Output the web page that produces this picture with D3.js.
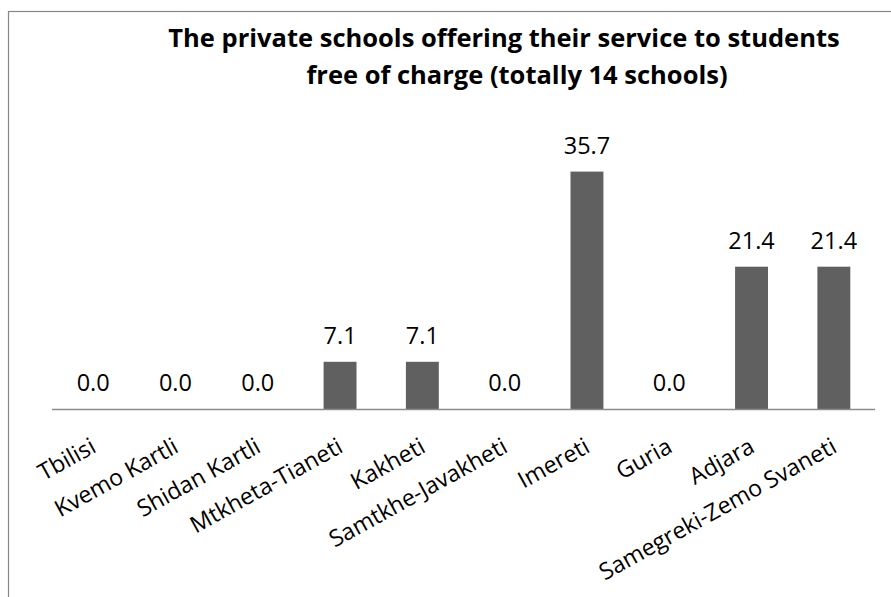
<!DOCTYPE html>
<html>
<head>
<meta charset="utf-8">
<script src="https://cdn.jsdelivr.net/npm/d3@7"></script>
<style>
  html, body { margin: 0; padding: 0; background: #fff; }
  svg { display: block; }
</style>
</head>
<body>
<svg id="chart" width="891" height="597"></svg>
<script>
// Share of free-of-charge private schools by region (%)
const regions = ["Tbilisi", "Kvemo Kartli", "Shidan Kartli", "Mtkheta-Tianeti", "Kakheti",
                 "Samtkhe-Javakheti", "Imereti", "Guria", "Adjara", "Samegreki-Zemo Svaneti"];
const shares = [0.0, 0.0, 0.0, 7.1, 7.1, 0.0, 35.7, 0.0, 21.4, 21.4];
const titleLines = ["The private schools offering their service to students",
                    "free of charge (totally 14 schools)"];

const svg = d3.select("#chart");
const font = "'Open Sans', 'DejaVu Sans', sans-serif";

// outer chart frame
svg.append("rect")
  .attr("x", 8.5).attr("y", 11.5)
  .attr("width", 1000).attr("height", 1000)
  .attr("fill", "#fff").attr("stroke", "#878787").attr("stroke-width", 1.2);

// plot area
const plot = { left: 52, right: 875, top: 143, bottom: 409 };

const x = d3.scaleBand()
  .domain(regions)
  .range([plot.left, plot.right])
  .paddingInner(0.6).paddingOuter(0.3);

const y = d3.scaleLinear()
  .domain([0, 40])
  .range([plot.bottom, plot.top]);

// title
svg.append("g").selectAll("text")
  .data(titleLines)
  .join("text")
  .attr("x", (d, i) => i === 0 ? 504 : 517)
  .attr("y", (d, i) => 47 + i * 37)
  .attr("text-anchor", "middle")
  .attr("font-family", font)
  .attr("font-weight", "bold")
  .attr("font-size", 25.5)
  .attr("fill", "#000")
  .text(d => d);

// bars
svg.append("g").selectAll("rect")
  .data(shares)
  .join("rect")
  .attr("x", (d, i) => x(regions[i]))
  .attr("width", x.bandwidth())
  .attr("y", d => y(d))
  .attr("height", d => y(0) - y(d))
  .attr("fill", "#606060");

// value labels
svg.append("g").selectAll("text")
  .data(shares)
  .join("text")
  .attr("x", (d, i) => x(regions[i]) + x.bandwidth() / 2)
  .attr("y", d => y(d) - 18)
  .attr("text-anchor", "middle")
  .attr("font-family", font)
  .attr("font-size", 23.5)
  .attr("fill", "#000")
  .text(d => d3.format(".1f")(d));

// category axis
const xAxis = svg.append("g")
  .attr("transform", `translate(0,${plot.bottom})`)
  .call(d3.axisBottom(x).tickSize(0).tickSizeOuter(0));

xAxis.select(".domain")
  .attr("d", `M${plot.left},0.5H${plot.right}`)
  .attr("stroke", "#8c8c8c").attr("stroke-width", 1.5);

xAxis.selectAll(".tick text")
  .attr("font-family", font)
  .attr("font-size", 23.2)
  .attr("fill", "#000")
  .attr("text-anchor", "end")
  .attr("x", 0).attr("y", 0).attr("dy", "0.75em")
  .attr("transform", "translate(-4,27) rotate(-29)");
</script>
</body>
</html>
